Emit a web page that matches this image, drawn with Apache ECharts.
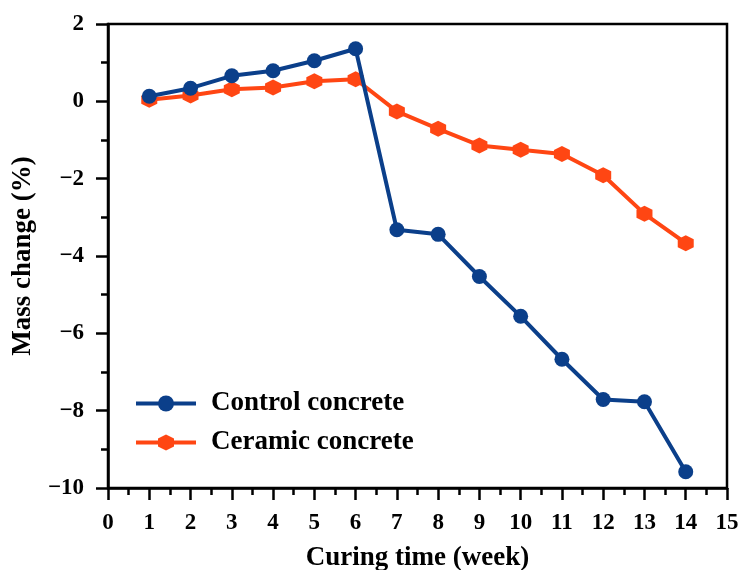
<!DOCTYPE html>
<html>
<head>
<meta charset="utf-8">
<script src="https://cdn.jsdelivr.net/npm/echarts@6/dist/echarts.min.js"></script>
<style>html,body{margin:0;padding:0;background:#fff}#c{width:743px;height:570px}</style>
</head>
<body>
<div id="c"></div>
<script>
var weeks = [1,2,3,4,5,6,7,8,9,10,11,12,13,14];
var controlConcrete = [0.13,0.34,0.66,0.79,1.05,1.36,-3.32,-3.44,-4.53,-5.56,-6.67,-7.71,-7.77,-9.58];
var ceramicConcrete = [0.04,0.15,0.31,0.36,0.52,0.57,-0.26,-0.71,-1.14,-1.25,-1.36,-1.91,-2.91,-3.67];
var seriesNames = ['Control concrete','Ceramic concrete'];
var xName = 'Curing time (week)';
var yName = 'Mass change (%)';

function pairs(xs, ys){ return xs.map(function(x,i){return [x, ys[i]];}); }
var font = 'Liberation Serif';
var hex = 'path://M0,-10L8.66,-5L8.66,5L0,10L-8.66,5L-8.66,-5Z';
var chart = echarts.init(document.getElementById('c'));
var axisCommon = {
  axisLine:{show:true,onZero:false,lineStyle:{color:'#000',width:2.5}},
  axisTick:{show:true,inside:false,length:12,lineStyle:{color:'#000',width:2.5}},
  minorTick:{show:true,splitNumber:2,length:7,lineStyle:{color:'#000',width:2.5}},
  splitLine:{show:false},
  axisLabel:{color:'#000',fontFamily:font,fontWeight:'bold',fontSize:23,margin:24,
    formatter:function(v){return String(v).replace('-','\u2212');}}
};
chart.setOption({
  animation:false,
  grid:{left:108,right:16,top:24,bottom:82,show:true,borderColor:'#000',borderWidth:2.5,
    containLabel:false,outerBoundsMode:'none'},
  legend:{orient:'vertical',left:129,top:385,itemWidth:60,itemHeight:20,itemGap:12,
    lineStyle:{width:4},
    textStyle:{fontFamily:font,fontWeight:'bold',fontSize:27,lineHeight:27,color:'#000',padding:[0,0,0,10]},
    data:seriesNames},
  xAxis:Object.assign({type:'value',min:0,max:15,interval:1,name:xName,nameLocation:'middle',nameGap:57,
    nameTextStyle:{fontFamily:font,fontWeight:'bold',fontSize:27,color:'#000'}},axisCommon),
  yAxis:Object.assign({type:'value',min:-10,max:2,interval:2,name:yName,nameLocation:'middle',nameGap:67,nameRotate:90,
    nameTextStyle:{fontFamily:font,fontWeight:'bold',fontSize:27,color:'#000'}},axisCommon),
  series:[
    {name:seriesNames[0],type:'line',data:pairs(weeks,controlConcrete),symbol:'circle',symbolSize:15,
      itemStyle:{color:'#0b3f8a'},lineStyle:{color:'#0b3f8a',width:4},z:3},
    {name:seriesNames[1],type:'line',data:pairs(weeks,ceramicConcrete),symbol:hex,symbolSize:16,
      itemStyle:{color:'#ff4613'},lineStyle:{color:'#ff4613',width:4},z:2}
  ]
});
</script>
</body>
</html>
